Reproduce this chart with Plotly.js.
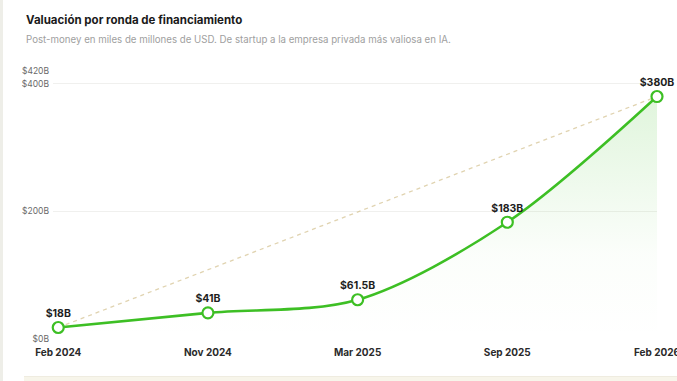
<!DOCTYPE html>
<html>
<head>
<meta charset="utf-8">
<script src="https://cdn.plot.ly/plotly-3.0.1.min.js"></script>
<style>
html,body{margin:0;padding:0;background:#ffffff;width:677px;height:381px;overflow:hidden;}
#strip{position:absolute;left:0;top:0;width:3px;height:381px;background:#eeeee8;}
#bottom{position:absolute;left:24px;top:376px;width:653px;height:5px;background:#f7f5ea;border-top:1px solid #efece0;}
#chart{position:absolute;left:0;top:0;width:677px;height:381px;}
</style>
</head>
<body>
<div id="chart"></div>
<div id="strip"></div>
<div id="bottom"></div>
<script>
const categories = ["Feb 2024", "Nov 2024", "Mar 2025", "Sep 2025", "Feb 2026"];
const valuations = [18, 41, 61.5, 183, 380];
const valueLabels = ["$18B", "$41B", "$61.5B", "$183B", "$380B"];
const yTickVals = [0, 200, 400, 420];
const yTickText = ["$0B", "$200B", "$400B", "$420B"];
const titleText = "Valuación por ronda de financiamiento";
const subtitleText = "Post-money en miles de millones de USD. De startup a la empresa privada más valiosa en IA.";

const green = "#3dbf24";
const xIdx = categories.map((c, i) => i);

const trend = {
  x: [xIdx[0], xIdx[xIdx.length - 1]],
  y: [valuations[0], valuations[valuations.length - 1]],
  mode: "lines",
  line: {color: "rgba(214,196,150,0.75)", width: 1.3, dash: "4px,4px"},
  hoverinfo: "skip",
  showlegend: false
};

const area = {
  x: xIdx,
  y: valuations,
  mode: "lines",
  line: {color: "rgba(0,0,0,0)", width: 0, shape: "spline", smoothing: 0.9},
  fill: "tozeroy",
  fillgradient: {
    type: "vertical",
    colorscale: [[0, "rgba(61,191,36,0)"], [0.35, "rgba(61,191,36,0.02)"], [1, "rgba(61,191,36,0.16)"]]
  },
  hoverinfo: "skip",
  showlegend: false
};

const main = {
  x: xIdx,
  y: valuations,
  mode: "lines+markers+text",
  line: {color: green, width: 2.6, shape: "spline", smoothing: 0.9},
  marker: {size: 11, color: "#ffffff", line: {color: green, width: 2.2}},
  text: valueLabels,
  textposition: "top center",
  textfont: {family: "Inter, sans-serif", size: 10.5, color: "#1e1e1e", weight: 700},
  cliponaxis: false,
  showlegend: false
};

const layout = {
  width: 677,
  height: 381,
  paper_bgcolor: "rgba(0,0,0,0)",
  plot_bgcolor: "rgba(0,0,0,0)",
  margin: {l: 53, r: 20, t: 71, b: 42},
  font: {family: "Inter, sans-serif"},
  annotations: [
    {
      text: "<b>" + titleText + "</b>",
      xref: "paper", yref: "paper", x: -0.048, y: 1.19,
      xanchor: "left", yanchor: "middle", showarrow: false,
      font: {family: "Inter, sans-serif", size: 11.5, color: "#1a1a1a"}
    },
    {
      text: subtitleText,
      xref: "paper", yref: "paper", x: -0.048, y: 1.116,
      xanchor: "left", yanchor: "middle", showarrow: false,
      font: {family: "Inter, sans-serif", size: 9.7, color: "#a0a0a0"}
    }
  ],
  xaxis: {
    type: "linear",
    range: [-0.035, 4],
    tickvals: xIdx,
    ticktext: categories.map(c => "<b>" + c + "</b>"),
    tickfont: {family: "Inter, sans-serif", size: 10, color: "#2a2a2a"},
    ticklabeloverflow: "allow",
    showgrid: false,
    zeroline: false,
    showline: false,
    ticks: "",
    ticklabelstandoff: 6,
    fixedrange: true
  },
  yaxis: {
    range: [0, 420],
    tickvals: yTickVals,
    ticktext: yTickText,
    tickfont: {family: "Inter, sans-serif", size: 8.5, color: "#6a6a6a"},
    showgrid: true,
    gridcolor: "#f0f0ee",
    gridwidth: 1,
    zeroline: false,
    showline: false,
    ticks: "",
    ticklabelstandoff: 3,
    fixedrange: true
  }
};

Plotly.newPlot("chart", [area, trend, main], layout, {displayModeBar: false, staticPlot: true});
</script>
</body>
</html>
